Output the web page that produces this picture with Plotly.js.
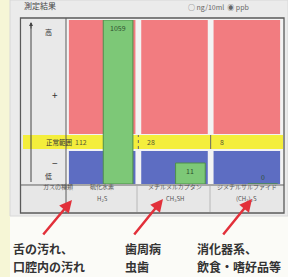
<!DOCTYPE html>
<html><head><meta charset="utf-8">
<script src="https://cdn.plot.ly/plotly-3.0.1.min.js"></script>
<style>html,body{margin:0;padding:0;background:#fbfbf7;}#c{width:288px;height:277px;}</style>
</head><body><div id="c"></div>
<script>
// ---- data ----
const categories = ['硫化水素', 'メチルメルカプタン', 'ジメチルサルファイド'];
const formulas = ['H<sub>2</sub>S', 'CH<sub>3</sub>SH', '(CH<sub>3</sub>)<sub>2</sub>S'];
const measured = [1059, 11, 0];          // ppb shown on green bars
const normalLimit = [112, 28, 8];        // value shown in the normal band
const barLevel = [164, 21, 0];           // displayed bar height (screen scale units)
const notesLine1 = ['舌の汚れ、', '歯周病', '消化器系、'];
const notesLine2 = ['口腔内の汚れ', '虫歯', '飲食・嗜好品等'];
const rowLabels = ['高', '+', '正常範囲', '−', '低'];

const W = 288, H = 277;
const px = x => x / W, py = y => 1 - y / H;
const FONT = '"Noto Sans CJK JP", "Noto Sans", sans-serif';
const idx = categories.map((_, i) => i);

const LOW = [0, 33], NORM = [35, 49], HIGH = [50, 164];

const traces = [
  {type: 'bar', x: idx, y: idx.map(() => LOW[1] - LOW[0]), base: LOW[0], width: 0.92,
   marker: {color: '#5d6dc2', line: {width: 0}}, xaxis: 'x2', yaxis: 'y2', hoverinfo: 'skip'},
  {type: 'bar', x: idx, y: idx.map(() => HIGH[1] - HIGH[0]), base: HIGH[0], width: 0.92,
   marker: {color: '#f27c80', line: {width: 0}}, xaxis: 'x2', yaxis: 'y2', hoverinfo: 'skip'},
  {type: 'bar', x: idx, y: barLevel, base: 0, width: 0.41, offset: 0.015,
   marker: {color: '#7dc877', line: {color: '#4f8f4c', width: 1}},
   xaxis: 'x2', yaxis: 'y2', hoverinfo: 'skip'}
];

const shapes = [
  {type: 'rect', xref: 'paper', yref: 'paper', x0: 0, x1: px(10), y0: 0, y1: 1, fillcolor: '#f6f6d6', line: {width: 0}, layer: 'below'},
  {type: 'rect', xref: 'paper', yref: 'paper', x0: px(10), x1: 1, y0: py(216), y1: 1, fillcolor: '#ebebeb', line: {color: '#d8d8d8', width: 1}, layer: 'below'},
  {type: 'rect', xref: 'paper', yref: 'paper', x0: px(21), x1: px(284), y0: py(213), y1: py(18), fillcolor: '#f3f3f3', line: {width: 0}, layer: 'below'},
  {type: 'rect', xref: 'paper', yref: 'paper', x0: px(22), x1: px(66), y0: py(185), y1: py(19), fillcolor: '#e9e9e9', line: {width: 0}, layer: 'below'},
  {type: 'rect', xref: 'paper', yref: 'paper', x0: px(21), x1: px(284), y0: py(212), y1: py(186), fillcolor: '#e7e7e7', line: {width: 0}, layer: 'below'},
  {type: 'rect', xref: 'paper', yref: 'y2', x0: px(23), x1: px(283), y0: NORM[0], y1: NORM[1], fillcolor: '#f4ee3c', line: {width: 0}, layer: 'below'},
  {type: 'rect', xref: 'paper', yref: 'paper', x0: px(20.5), x1: px(284), y0: py(213), y1: py(18), line: {color: '#5a5a5a', width: 1.3}},
  {type: 'line', xref: 'paper', yref: 'paper', x0: px(66), x1: px(66), y0: py(213), y1: py(18), line: {color: '#5a5a5a', width: 1}},
  {type: 'line', xref: 'paper', yref: 'paper', x0: px(21), x1: px(284), y0: py(185), y1: py(185), line: {color: '#5a5a5a', width: 1}},
  {type: 'line', xref: 'paper', yref: 'paper', x0: px(137), x1: px(137), y0: py(212), y1: py(186), line: {color: '#b8b8b8', width: 1}},
  {type: 'line', xref: 'paper', yref: 'paper', x0: px(210), x1: px(210), y0: py(212), y1: py(186), line: {color: '#b8b8b8', width: 1}},
  {type: 'line', xref: 'x2', yref: 'y2', x0: 0.5, x1: 0.5, y0: NORM[0], y1: NORM[1], line: {color: '#666', width: 1, dash: 'dot'}},
  {type: 'line', xref: 'x2', yref: 'y2', x0: 1.5, x1: 1.5, y0: NORM[0], y1: NORM[1], line: {color: '#666', width: 1}},
  {type: 'line', xref: 'paper', yref: 'paper', x0: px(31), x1: px(31), y0: py(182), y1: py(23), line: {color: '#444', width: 1}}
];

const ann = [];
ann.push({xref: 'paper', yref: 'paper', x: px(22), y: py(6), xanchor: 'left', yanchor: 'middle', showarrow: false,
  text: '測定結果', font: {family: FONT, size: 8, color: '#444'}});
ann.push({xref: 'paper', yref: 'paper', x: px(186), y: py(7), xanchor: 'left', yanchor: 'middle', showarrow: false,
  text: '○ ng/10ml  ◉ ppb', font: {family: FONT, size: 7, color: '#666'}});
ann.push({xref: 'paper', yref: 'paper', x: px(31), y: py(22), ax: 0, ay: 8, showarrow: true, arrowhead: 2, arrowsize: 0.8,
  arrowwidth: 1, arrowcolor: '#444', text: ''});
const rowPos = [[43, 25], [50, 85], [44, 142], [50, 162], [43, 176]];
rowLabels.forEach((t, i) => {
  ann.push({xref: 'paper', yref: 'paper', x: px(rowPos[i][0]), y: py(rowPos[i][1]), showarrow: false,
    text: t, font: {family: FONT, size: i === 2 ? 6.5 : (i === 1 || i === 3 ? 10 : 7), color: '#333'}});
});
ann.push({xref: 'paper', yref: 'paper', x: px(41), y: py(193), showarrow: false,
  text: 'ガスの種類', font: {family: FONT, size: 6, color: '#555'}});
const noteX = [12, 124, 196];
const heads = [[72, 200], [163, 199], [252, 199]];
const tails = [[42, 236], [133, 236], [222, 236]];
categories.forEach((c, i) => {
  ann.push({xref: 'x2', yref: 'paper', x: i, y: py(193), showarrow: false, text: c, font: {family: FONT, size: 6, color: '#555'}});
  ann.push({xref: 'x2', yref: 'paper', x: i, y: py(205), showarrow: false, text: formulas[i], font: {family: FONT, size: 6, color: '#555'}});
  ann.push({xref: 'x2', yref: 'y2', x: i - 0.46, y: (NORM[0] + NORM[1]) / 2, xanchor: 'left', xshift: 4, showarrow: false,
    text: String(normalLimit[i]), font: {family: FONT, size: 7, color: '#5a5a30'}});
  ann.push({xref: 'x2', yref: 'y2', x: i + 0.22, y: barLevel[i], yanchor: barLevel[i] > 0 ? 'top' : 'bottom',
    yshift: barLevel[i] > 0 ? -1 : 0, showarrow: false,
    text: String(measured[i]), font: {family: FONT, size: 7, color: '#2f4f2f'}});
  ann.push({xref: 'paper', yref: 'paper', x: px(noteX[i]), y: py(248), xanchor: 'left', yanchor: 'middle', borderpad: 0,
    showarrow: false, text: '<b>' + notesLine1[i] + '</b>', font: {family: FONT, size: 12, color: '#333'}});
  ann.push({xref: 'paper', yref: 'paper', x: px(noteX[i]), y: py(266), xanchor: 'left', yanchor: 'middle', borderpad: 0,
    showarrow: false, text: '<b>' + notesLine2[i] + '</b>', font: {family: FONT, size: 12, color: '#333'}});
  const h = heads[i];
  ann.push({xref: 'paper', yref: 'paper', x: px(h[0]), y: py(h[1]), axref: 'pixel', ayref: 'pixel',
    ax: tails[i][0] - h[0], ay: tails[i][1] - h[1], showarrow: true, arrowhead: 2, arrowsize: 1,
    arrowwidth: 2.5, arrowcolor: '#e2303a', text: ''});
});

const layout = {
  width: W, height: H, margin: {l: 0, r: 0, t: 0, b: 0},
  paper_bgcolor: '#fbfbf7', plot_bgcolor: 'rgba(0,0,0,0)', showlegend: false, barmode: 'overlay',
  xaxis2: {domain: [px(66), px(283)], range: [-0.5, 2.5], visible: false, fixedrange: true},
  yaxis2: {domain: [py(184), py(20)], range: [0, 164], visible: false, fixedrange: true},
  xaxis: {visible: false}, yaxis: {visible: false},
  shapes: shapes, annotations: ann
};
Plotly.newPlot('c', traces, layout, {displayModeBar: false, staticPlot: true});
</script></body></html>
